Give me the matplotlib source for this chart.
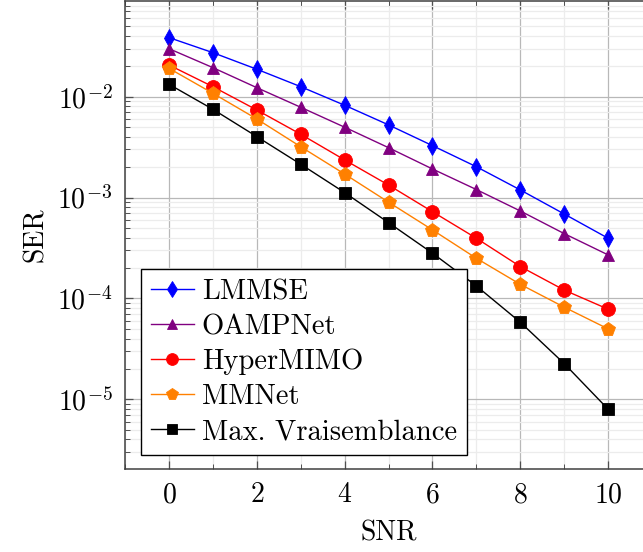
import matplotlib
matplotlib.use("Agg")
import matplotlib.pyplot as plt
from matplotlib.ticker import LogLocator, MultipleLocator, NullFormatter

plt.rcParams["font.family"] = ["cmr10"]
plt.rcParams["mathtext.fontset"] = "cm"
plt.rcParams["axes.formatter.use_mathtext"] = True

snr = [0, 1, 2, 3, 4, 5, 6, 7, 8, 9, 10]

ser_lmmse = [0.0385, 0.0273, 0.0187, 0.01256, 0.00822, 0.00525, 0.00327,
             0.00202, 0.00119, 0.000687, 0.000395]
ser_oampnet = [0.0299, 0.0194, 0.01228, 0.00785, 0.00498, 0.00312, 0.00192,
               0.00120, 0.000736, 0.000439, 0.000270]
ser_hypermimo = [0.0206, 0.01256, 0.00738, 0.00424, 0.00236, 0.00133, 0.000724,
                 0.000395, 0.000207, 0.000121, 0.0000782]
ser_mmnet = [0.0191, 0.0108, 0.00601, 0.00319, 0.00171, 0.000900, 0.000478,
             0.000250, 0.000138, 0.0000819, 0.0000499]
ser_ml = [0.01327, 0.0075, 0.00402, 0.00214, 0.00112, 0.000564, 0.000281,
          0.000133, 0.0000581, 0.0000226, 0.00000798]

labels = ["LMMSE", "OAMPNet", "HyperMIMO", "MMNet", "Max. Vraisemblance"]
colors = ["#0000ff", "#800080", "#ff0000", "#ff8000", "#000000"]
markers = ["d", "^", "o", "p", "s"]
msizes = [9, 9, 10, 10, 9]

fig = plt.figure(figsize=(6.43, 5.52), dpi=100)
ax = fig.add_axes([125 / 643, 1 - 469.3 / 552, 527 / 643, 468.3 / 552])

series = [ser_lmmse, ser_oampnet, ser_hypermimo, ser_mmnet, ser_ml]
for ys, lab, c, m, ms in zip(series, labels, colors, markers, msizes):
    ax.plot(snr, ys, color=c, marker=m, markersize=ms, lw=1.0,
            markeredgewidth=0.6, label=lab)

ax.set_yscale("log")
ax.set_xlim(-1, 11)
ax.set_ylim(10 ** -5.694, 10 ** -1.052)

ax.xaxis.set_major_locator(MultipleLocator(2))
ax.xaxis.set_minor_locator(MultipleLocator(1))
ax.yaxis.set_major_locator(LogLocator(base=10, numticks=20))
ax.yaxis.set_minor_locator(LogLocator(base=10, subs=range(2, 10), numticks=20))
ax.yaxis.set_minor_formatter(NullFormatter())

ax.grid(which="major", color="#b8b8b8", lw=0.9)
ax.grid(which="minor", color="#ececec", lw=0.9)
ax.set_axisbelow(True)

for s in ax.spines.values():
    s.set_color("#404040")
    s.set_linewidth(1.1)

ax.tick_params(which="both", direction="in", top=True, right=True,
               colors="#505050", labelcolor="black", labelsize=20)
ax.tick_params(which="major", length=6, width=0.9, pad=9)
ax.tick_params(which="minor", length=3.5, width=0.7)

ax.set_xlabel("SNR", fontsize=20, labelpad=9)
ax.set_ylabel("SER", fontsize=20, labelpad=6)

leg = ax.legend(loc="lower left", bbox_to_anchor=(0.03, 0.03), borderaxespad=0,
                fontsize=20.6, fancybox=False, framealpha=1, edgecolor="black",
                handlelength=1.5, handletextpad=0.28, labelspacing=0.3,
                borderpad=0.35, markerscale=0.85)
leg.get_frame().set_linewidth(1.0)

fig.savefig("out.png", dpi=100)
